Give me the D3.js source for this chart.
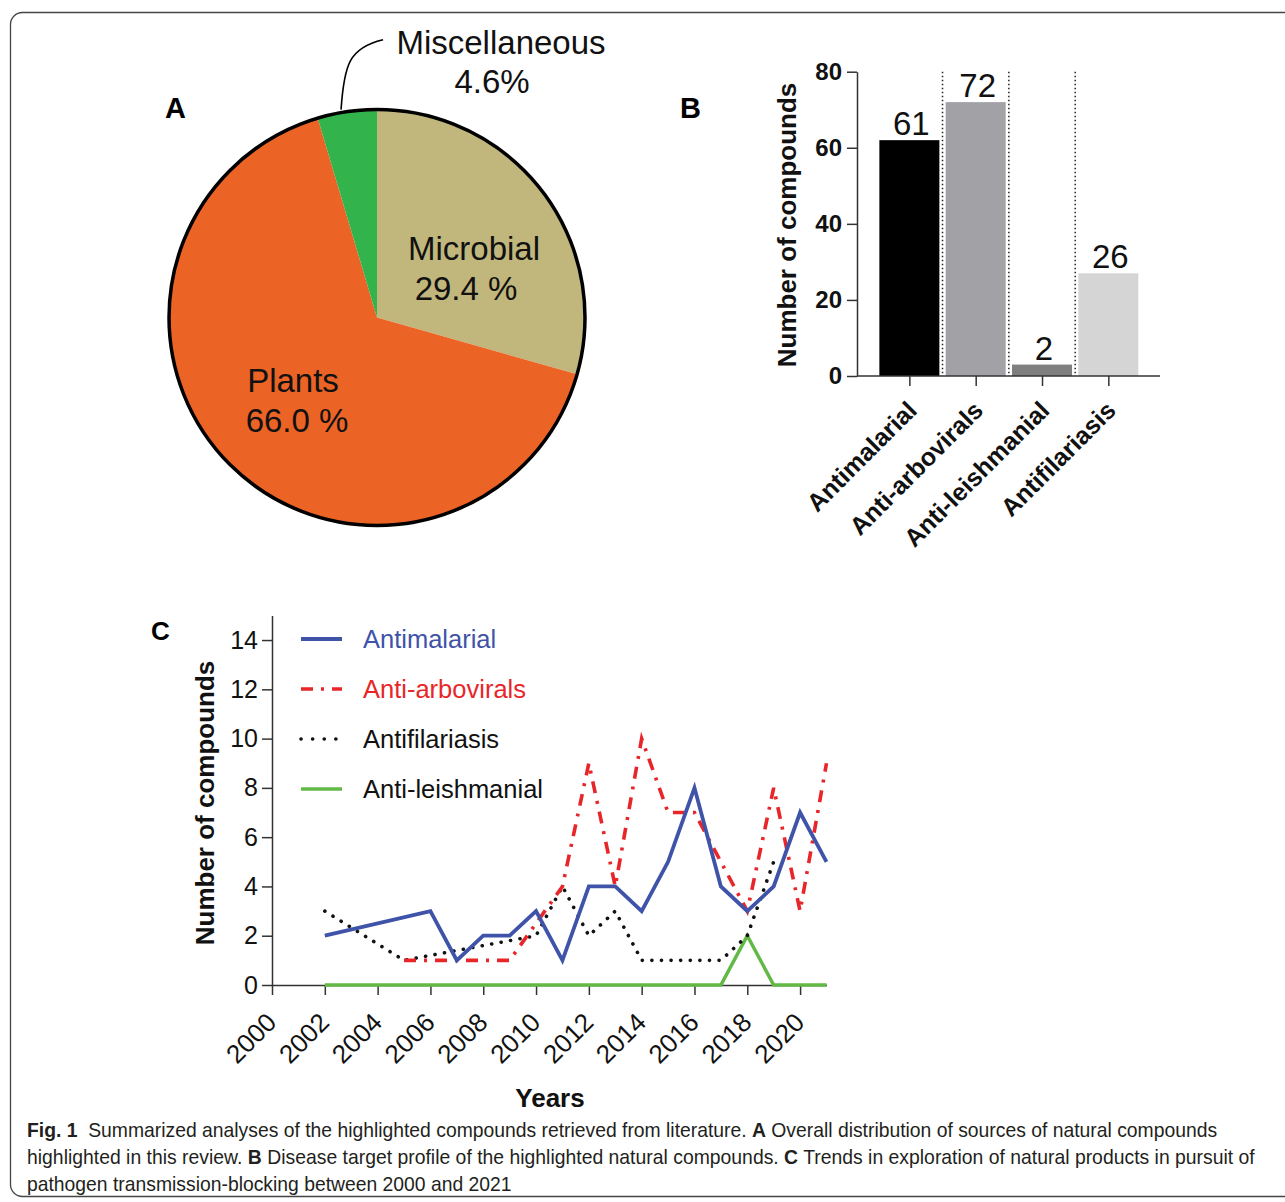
<!DOCTYPE html>
<html>
<head>
<meta charset="utf-8">
<script src="https://cdn.jsdelivr.net/npm/d3@7"></script>
<style>
  html, body { margin: 0; padding: 0; background: #fff; }
  svg { display: block; }
  text { font-family: "Liberation Sans", Arial, Helvetica, sans-serif; }
</style>
</head>
<body>
<svg id="chart" width="1285" height="1202"></svg>
<script>
// ---------------- DATA ----------------
// Panel A (pie)
const pieCategories = ["Microbial", "Plants", "Miscellaneous"];
const pieValues = [29.4, 66.0, 4.6];
const pieLabels = ["29.4 %", "66.0 %", "4.6%"];
const pieColors = ["#c1b77c", "#ec6326", "#33b34b"];

// Panel B (bars)
const barCategories = ["Antimalarial", "Anti-arbovirals", "Anti-leishmanial", "Antifilariasis"];
const barValues = [62, 72, 3, 27];          // bar heights as drawn
const barLabels = ["61", "72", "2", "26"];  // printed values
const barColors = ["#000000", "#a2a1a6", "#7f7f7f", "#d5d5d5"];
const barYTicks = [0, 20, 40, 60, 80];

// Panel C (lines)
const yearTicks = [2000, 2002, 2004, 2006, 2008, 2010, 2012, 2014, 2016, 2018, 2020];
const lineYTicks = [0, 2, 4, 6, 8, 10, 12, 14];
const antimalarialYears  = [2002, 2006, 2007, 2008, 2009, 2010, 2011, 2012, 2013, 2014, 2015, 2016, 2017, 2018, 2019, 2020, 2021];
const antimalarialValues = [2, 3, 1, 2, 2, 3, 1, 4, 4, 3, 5, 8, 4, 3, 4, 7, 5];
const arboviralYears  = [2005, 2006, 2007, 2008, 2009, 2011, 2012, 2013, 2014, 2015, 2016, 2017, 2018, 2019, 2020, 2021];
const arboviralValues = [1, 1, 1, 1, 1, 4, 9, 4, 10, 7, 7, 5, 3, 8, 3, 9];
const filariasisYears  = [2002, 2005, 2010, 2011, 2012, 2013, 2014, 2015, 2016, 2017, 2018, 2019];
const filariasisValues = [3, 1, 2, 4, 2, 3, 1, 1, 1, 1, 2, 5];
const leishYears  = [2002, 2003, 2004, 2005, 2006, 2007, 2008, 2009, 2010, 2011, 2012, 2013, 2014, 2015, 2016, 2017, 2018, 2019, 2020, 2021];
const leishValues = [0, 0, 0, 0, 0, 0, 0, 0, 0, 0, 0, 0, 0, 0, 0, 0, 2, 0, 0, 0];
const seriesNames = ["Antimalarial", "Anti-arbovirals", "Antifilariasis", "Anti-leishmanial"];
const seriesColors = ["#3f53a9", "#e8262a", "#111111", "#62b946"];

// ---------------- DRAW ----------------
const svg = d3.select("#chart");
svg.append("rect").attr("width", 1285).attr("height", 1202).attr("fill", "#fff");

// frame
svg.append("rect").attr("x", 10.5).attr("y", 12.5).attr("width", 1320).attr("height", 1184)
  .attr("rx", 12).attr("fill", "none").attr("stroke", "#444").attr("stroke-width", 1.3);

// panel letters
svg.append("text").attr("x", 165).attr("y", 118).attr("font-size", 29).attr("font-weight", "bold").text("A");
svg.append("text").attr("x", 680).attr("y", 118).attr("font-size", 29).attr("font-weight", "bold").text("B");
svg.append("text").attr("x", 151).attr("y", 640).attr("font-size", 26).attr("font-weight", "bold").text("C");

// ===== Panel A: pie =====
const pieG = svg.append("g").attr("transform", "translate(377,317.5)");
const R = 208;
const pie = d3.pie().sort(null).value(d => d)(pieValues);
const arc = d3.arc().innerRadius(0).outerRadius(R);
pieG.selectAll("path.slice").data(pie).join("path")
  .attr("class", "slice")
  .attr("d", arc)
  .attr("fill", (d, i) => pieColors[i]);
pieG.append("circle").attr("r", R).attr("fill", "none").attr("stroke", "#000").attr("stroke-width", 3.5);

// leader for Miscellaneous
const miscArc = pie[2];
const midA = (miscArc.startAngle + miscArc.endAngle) / 2;
const lx = Math.sin(midA) * R - 6, ly = -Math.cos(midA) * R - 2;
pieG.append("path")
  .attr("d", `M${lx},${ly} C${lx + 3},${ly - 45} ${lx + 8},${ly - 62} ${lx + 42},${ly - 70}`)
  .attr("fill", "none").attr("stroke", "#000").attr("stroke-width", 1.6);

const pieText = [
  { name: pieCategories[2], pct: pieLabels[2], x: 501, px: 492, y1: 54, y2: 93 },
  { name: pieCategories[0], pct: pieLabels[0], x: 474, px: 466, y1: 260, y2: 300 },
  { name: pieCategories[1], pct: pieLabels[1], x: 293, px: 297, y1: 392, y2: 432 }
];
pieText.forEach(t => {
  svg.append("text").attr("x", t.x).attr("y", t.y1).attr("text-anchor", "middle")
    .attr("font-size", 33).attr("fill", "#111").text(t.name);
  svg.append("text").attr("x", t.px).attr("y", t.y2).attr("text-anchor", "middle")
    .attr("font-size", 33).attr("fill", "#111").text(t.pct);
});

// ===== Panel B: bars =====
const bx = d3.scalePoint().domain(barCategories).range([876.2, 1141.5]).padding(0.5);
const by = d3.scaleLinear().domain([0, 80]).range([376, 71.7]);
const step = bx.step();
const barW = 60;

// dotted separators
svg.append("g").selectAll("line").data(barCategories.slice(0, 3)).join("line")
  .attr("x1", d => bx(d) + step / 2).attr("x2", d => bx(d) + step / 2)
  .attr("y1", by(80)).attr("y2", by(0))
  .attr("stroke", "#222").attr("stroke-width", 1.5).attr("stroke-dasharray", "1.5 2.5");

svg.append("g").selectAll("rect").data(barValues).join("rect")
  .attr("x", (d, i) => bx(barCategories[i]) - barW / 2)
  .attr("width", barW)
  .attr("y", d => by(d))
  .attr("height", d => by(0) - by(d))
  .attr("fill", (d, i) => barColors[i]);

svg.append("g").selectAll("text").data(barLabels).join("text")
  .attr("x", (d, i) => bx(barCategories[i]) + 2)
  .attr("y", (d, i) => by(barValues[i]) - 5)
  .attr("text-anchor", "middle").attr("font-size", 33).attr("fill", "#111")
  .text(d => d);

// y axis
const byAxis = svg.append("g").attr("transform", "translate(857,0)")
  .call(d3.axisLeft(by).tickValues(barYTicks).tickSize(10).tickSizeOuter(0).tickPadding(5));
byAxis.select(".domain").attr("stroke", "#333").attr("stroke-width", 1.5);
byAxis.selectAll(".tick line").attr("stroke", "#333").attr("stroke-width", 1.5);
byAxis.selectAll(".tick text").attr("font-size", 24).attr("font-weight", "bold").attr("fill", "#111")
  .attr("font-family", "Liberation Sans, Arial, sans-serif");

// x axis
const bxAxis = svg.append("g").attr("transform", "translate(0,376)")
  .call(d3.axisBottom(bx).tickSize(10).tickSizeOuter(0).tickFormat(""));
bxAxis.select(".domain").attr("d", "M857,0H1160").attr("stroke", "#333").attr("stroke-width", 1.5);
bxAxis.selectAll(".tick line").attr("stroke", "#333").attr("stroke-width", 1.5);
svg.append("g").selectAll("text").data(barCategories).join("text")
  .attr("transform", d => `translate(${bx(d) + 9},${412}) rotate(-45)`)
  .attr("text-anchor", "end").attr("font-size", 25).attr("font-weight", "bold").attr("fill", "#111")
  .text(d => d);

svg.append("text").attr("transform", "translate(796,225) rotate(-90)")
  .attr("text-anchor", "middle").attr("font-size", 26).attr("font-weight", "bold").attr("fill", "#111")
  .text("Number of compounds");

// ===== Panel C: lines =====
const lx2 = d3.scaleLinear().domain([2000, 2021]).range([272, 826.5]);
const ly2 = d3.scaleLinear().domain([0, 15]).range([985, 615.4]);

const cyAxis = svg.append("g").attr("transform", "translate(272,0)")
  .call(d3.axisLeft(ly2).tickValues(lineYTicks).tickSize(10).tickSizeOuter(0).tickPadding(4));
cyAxis.select(".domain").attr("stroke", "#333").attr("stroke-width", 1.5);
cyAxis.selectAll(".tick line").attr("stroke", "#333").attr("stroke-width", 1.5);
cyAxis.selectAll(".tick text").attr("font-size", 25).attr("fill", "#111")
  .attr("font-family", "Liberation Sans, Arial, sans-serif");

const cxAxis = svg.append("g").attr("transform", "translate(0,985)")
  .call(d3.axisBottom(lx2).tickValues(yearTicks).tickSize(10).tickSizeOuter(0).tickFormat(""));
cxAxis.select(".domain").attr("stroke", "#333").attr("stroke-width", 1.5);
cxAxis.selectAll(".tick line").attr("stroke", "#333").attr("stroke-width", 1.5);
svg.append("g").selectAll("text").data(yearTicks).join("text")
  .attr("transform", d => `translate(${lx2(d) + 6},${1024}) rotate(-45)`)
  .attr("text-anchor", "end").attr("font-size", 26).attr("fill", "#111")
  .text(d => d);

svg.append("text").attr("x", 550).attr("y", 1107).attr("text-anchor", "middle")
  .attr("font-size", 26).attr("font-weight", "bold").attr("fill", "#111").text("Years");
svg.append("text").attr("transform", "translate(214,803) rotate(-90)")
  .attr("text-anchor", "middle").attr("font-size", 26).attr("font-weight", "bold").attr("fill", "#111")
  .text("Number of compounds");

const lineGen = d3.line().x(d => lx2(d[0])).y(d => ly2(d[1]));
const zip = (a, b) => a.map((v, i) => [v, b[i]]);
const series = [
  { pts: zip(leishYears, leishValues), color: seriesColors[3], w: 3.5, dash: null, cap: "butt" },
  { pts: zip(filariasisYears, filariasisValues), color: seriesColors[2], w: 3.6, dash: "0.1 9.5", cap: "round" },
  { pts: zip(arboviralYears, arboviralValues), color: seriesColors[1], w: 3.6, dash: "12 8 3 8", cap: "butt" },
  { pts: zip(antimalarialYears, antimalarialValues), color: seriesColors[0], w: 3.8, dash: null, cap: "butt" }
];
series.forEach(s => {
  svg.append("path").attr("d", lineGen(s.pts)).attr("fill", "none")
    .attr("stroke", s.color).attr("stroke-width", s.w)
    .attr("stroke-dasharray", s.dash).attr("stroke-linecap", s.cap)
    .attr("stroke-linejoin", "miter");
});

// legend
const legend = [
  { name: seriesNames[0], color: seriesColors[0], text: seriesColors[0], dash: null, cap: "butt", w: 3.8 },
  { name: seriesNames[1], color: seriesColors[1], text: seriesColors[1], dash: "12 8 3 8", cap: "butt", w: 3.6 },
  { name: seriesNames[2], color: seriesColors[2], text: "#111", dash: "0.1 11.5", cap: "round", w: 3.6 },
  { name: seriesNames[3], color: seriesColors[3], text: "#111", dash: null, cap: "butt", w: 3.5 }
];
legend.forEach((l, i) => {
  const y = 639 + i * 50;
  svg.append("line").attr("x1", 301).attr("x2", 342).attr("y1", y).attr("y2", y)
    .attr("stroke", l.color).attr("stroke-width", l.w).attr("stroke-dasharray", l.dash)
    .attr("stroke-linecap", l.cap);
  svg.append("text").attr("x", 363).attr("y", y + 9).attr("font-size", 25.5).attr("fill", l.text).text(l.name);
});

// caption (each line horizontally condensed to the reference width)
const capLines = [
  { y: 1137, width: 1191, parts: [["Fig. 1", true], ["  Summarized analyses of the highlighted compounds retrieved from literature. ", false], ["A", true], [" Overall distribution of sources of natural compounds", false]] },
  { y: 1164, width: 1228, parts: [["highlighted in this review. ", false], ["B", true], [" Disease target profile of the highlighted natural compounds. ", false], ["C", true], [" Trends in exploration of natural products in pursuit of", false]] },
  { y: 1191, width: 485, parts: [["pathogen transmission-blocking between 2000 and 2021", false]] }
];
capLines.forEach(l => {
  const g = svg.append("g");
  const t = g.append("text").attr("x", 0).attr("y", 0).attr("font-size", 20)
    .attr("fill", "#231f20").attr("xml:space", "preserve");
  l.parts.forEach(p => {
    t.append("tspan").attr("font-weight", p[1] ? "bold" : "normal").text(p[0]);
  });
  const w = t.node().getComputedTextLength();
  const s = w > 0 ? l.width / w : 1;
  g.attr("transform", `translate(27,${l.y}) scale(${s},1)`);
});
</script>
</body>
</html>
